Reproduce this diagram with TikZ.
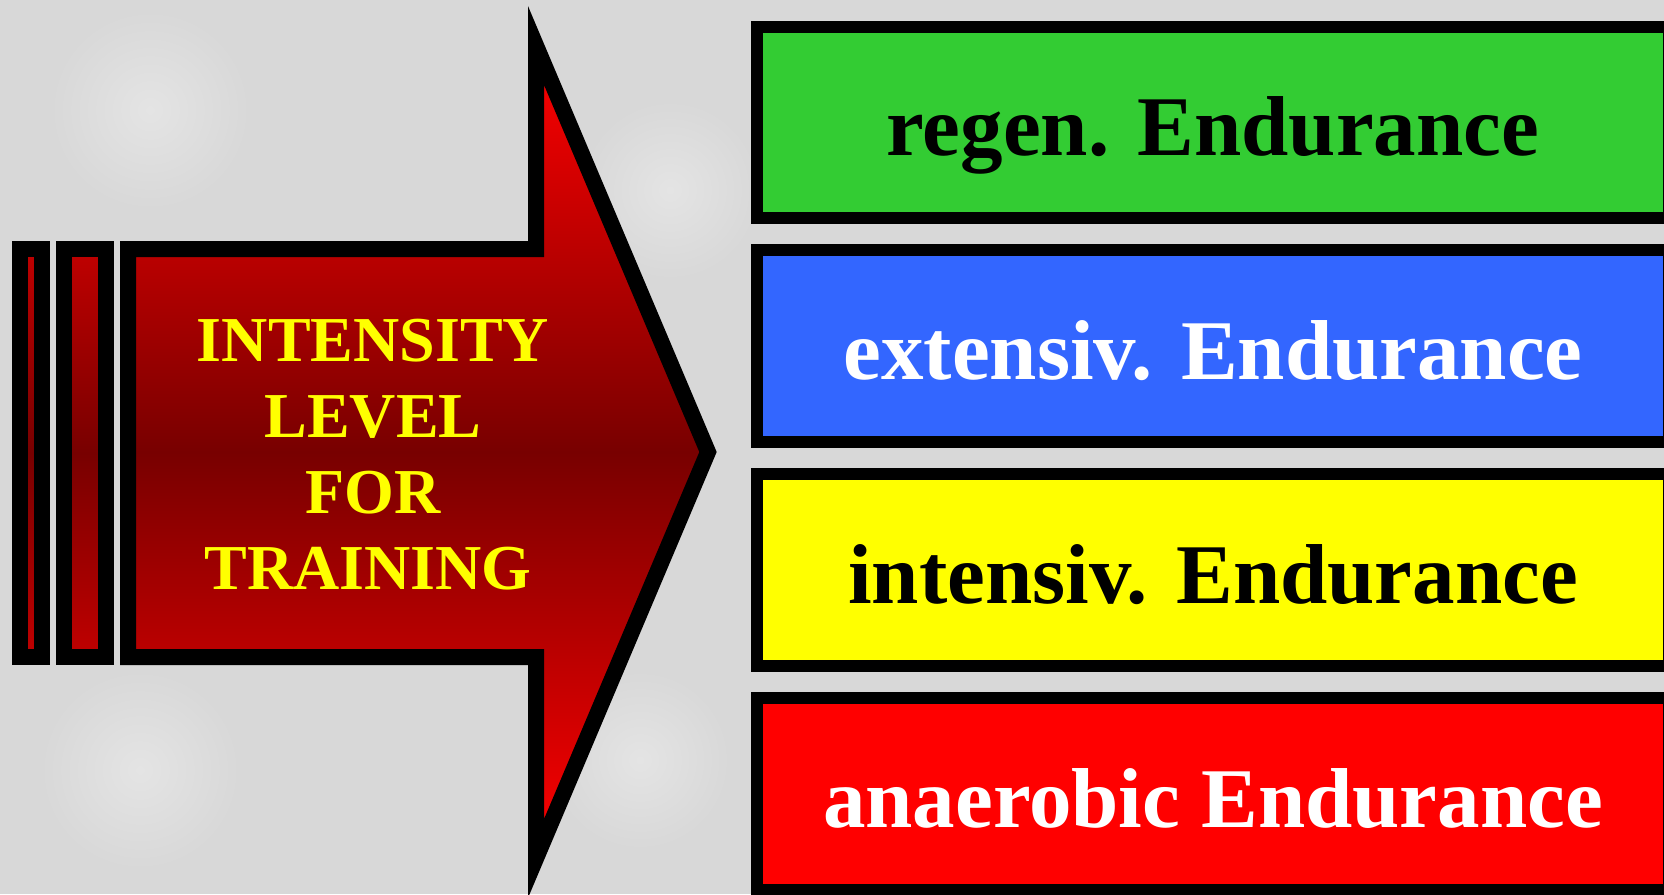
\documentclass[tikz,border=0pt]{standalone}
\usepackage{fontspec}
\setmainfont{Liberation Serif}
\definecolor{bggray}{RGB}{216,216,216}
\definecolor{bglight}{RGB}{228,228,228}
\definecolor{darkred}{RGB}{120,0,0}
\definecolor{midred}{RGB}{192,0,0}
\definecolor{boxgreen}{RGB}{51,204,51}
\definecolor{boxblue}{RGB}{51,102,255}
\definecolor{boxyellow}{RGB}{255,255,0}
\definecolor{boxred}{RGB}{255,0,0}
\definecolor{txtyellow}{RGB}{255,255,0}
\tikzset{
  barshape/.style={draw=black, line width=16pt, line join=miter, top color=midred, bottom color=midred, middle color=darkred},
  arrowshape/.style={draw=black, line width=16pt, line join=miter, miter limit=20, top color=red, bottom color=red, middle color=darkred},
  levelbox/.style={draw=black, line width=12pt, rectangle, inner sep=0pt, minimum width=912pt, minimum height=191.6pt,
    font=\fontsize{85}{90}\selectfont\bfseries, text height=66pt, text depth=0pt},
  arrowtext/.style={anchor=base, inner sep=0pt, text=txtyellow, font=\fontsize{64}{70}\selectfont\bfseries},
  blob/.style={inner color=bglight, outer color=bggray}
}
\begin{document}
\begin{tikzpicture}[x=1pt,y=-1pt]
\useasboundingbox (0,0) rectangle (1664,894);
\clip (0,0) rectangle (1664,894);
\fill[bggray] (0,0) rectangle (1664,894);
% subtle mottled background (kept inside the frame)
\shade[blob] (150,110) circle (100);
\shade[blob] (670,190) circle (90);
\shade[blob] (140,770) circle (100);
\shade[blob] (640,760) circle (90);
% left bars
\path[barshape] (20.3,249) rectangle (42,657);
\path[barshape] (63.5,249) rectangle (106.3,657);
% main arrow
\path[arrowshape] (128,249) -- (536,249) -- (536,45.5) -- (708,452) -- (536,858.5) -- (536,657) -- (128,657) -- cycle;
% arrow text
\node[arrowtext] (t1) at (373,361) {INTENSITY};
\node[arrowtext] (t2) at (373,437) {LEVEL};
\node[arrowtext] (t3) at (373,513) {FOR};
\node[arrowtext] (t4) at (368,589) {TRAINING};
% level boxes
\node[levelbox, fill=boxgreen, text=black] (b1) at (1213,122.3) {regen. Endurance};
\node[levelbox, fill=boxblue, text=white] (b2) at (1213,346.2) {extensiv. Endurance};
\node[levelbox, fill=boxyellow, text=black] (b3) at (1213,570.1) {intensiv. Endurance};
\node[levelbox, fill=boxred, text=white] (b4) at (1213,794.0) {anaerobic Endurance};
\end{tikzpicture}
\end{document}
